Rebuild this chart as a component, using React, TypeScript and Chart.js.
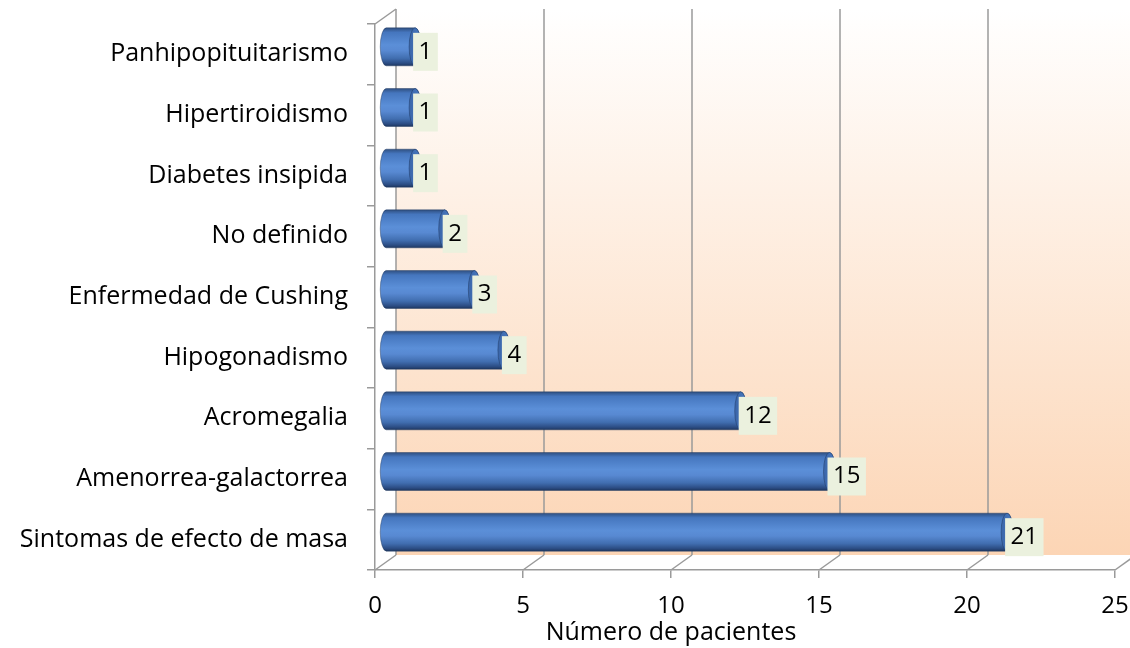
import React, { useEffect, useRef } from "react";
import { Chart, registerables } from "chart.js";

Chart.register(...registerables);

const categories = [
  "Panhipopituitarismo",
  "Hipertiroidismo",
  "Diabetes insipida",
  "No definido",
  "Enfermedad de Cushing",
  "Hipogonadismo",
  "Acromegalia",
  "Amenorrea-galactorrea",
  "Sintomas de efecto de masa",
];
const patients = [1, 1, 1, 2, 3, 4, 12, 15, 21];
const xTicks = [0, 5, 10, 15, 20, 25];
const xTitle = "Número de pacientes";

const FONT = '"Open Sans", sans-serif';
const DX = 21;
const DY = -15;
const GRID = "#9A9A9A";

function drawCylinder(ctx: CanvasRenderingContext2D, x0: number, x1: number, yc: number, h: number) {
  const rx = 6;
  const ry = h / 2;
  const top = yc - ry;
  const bot = yc + ry;
  const g = ctx.createLinearGradient(0, top, 0, bot);
  g.addColorStop(0, "#2F4F80");
  g.addColorStop(0.12, "#4576BE");
  g.addColorStop(0.45, "#5B8FD8");
  g.addColorStop(0.6, "#5889D2");
  g.addColorStop(0.8, "#416EB0");
  g.addColorStop(0.93, "#2C4D84");
  g.addColorStop(1, "#1E3760");
  ctx.beginPath();
  ctx.moveTo(x0, top);
  ctx.lineTo(x1, top);
  ctx.ellipse(x1, yc, rx, ry, 0, -Math.PI / 2, Math.PI / 2, false);
  ctx.lineTo(x0, bot);
  ctx.ellipse(x0, yc, rx, ry, 0, Math.PI / 2, (3 * Math.PI) / 2, false);
  ctx.closePath();
  ctx.fillStyle = g;
  ctx.fill();
  ctx.strokeStyle = "rgba(30,55,95,0.55)";
  ctx.lineWidth = 0.8;
  ctx.stroke();
  const cg = ctx.createLinearGradient(x1 - rx, 0, x1 + rx, 0);
  cg.addColorStop(0, "#3A65A8");
  cg.addColorStop(1, "#4A7BC2");
  ctx.beginPath();
  ctx.ellipse(x1, yc, rx, ry, 0, 0, Math.PI * 2);
  ctx.fillStyle = cg;
  ctx.fill();
  ctx.strokeStyle = "rgba(30,55,95,0.6)";
  ctx.stroke();
}

const fake3d = {
  id: "fake3d",
  beforeDraw(chart: any) {
    const ctx = chart.ctx as CanvasRenderingContext2D;
    const xs = chart.scales.x;
    const ys = chart.scales.y;
    const L = xs.getPixelForValue(0);
    const R = xs.getPixelForValue(25);
    const T = ys.top;
    const B = ys.bottom;
    ctx.save();
    const g = ctx.createLinearGradient(0, T + DY, 0, B + DY);
    g.addColorStop(0, "#FFFFFF");
    g.addColorStop(1, "#FCD5B5");
    ctx.fillStyle = g;
    ctx.fillRect(L + DX, T + DY, R - L, B - T);
    ctx.strokeStyle = GRID;
    ctx.lineWidth = 1.5;
    for (const v of xTicks) {
      const px = xs.getPixelForValue(v);
      ctx.beginPath();
      ctx.moveTo(px + DX, T + DY);
      ctx.lineTo(px + DX, B + DY);
      ctx.stroke();
      ctx.beginPath();
      ctx.moveTo(px, B);
      ctx.lineTo(px + DX, B + DY);
      ctx.stroke();
    }
    ctx.beginPath();
    ctx.moveTo(L, T);
    ctx.lineTo(L + DX, T + DY);
    ctx.stroke();
    ctx.restore();
  },
  afterDatasetsDraw(chart: any) {
    const ctx = chart.ctx as CanvasRenderingContext2D;
    const meta = chart.getDatasetMeta(0);
    ctx.save();
    meta.data.forEach((el: any) => {
      const p = el.getProps(["x", "y", "base", "height"], true);
      drawCylinder(ctx, p.base + DX / 2, p.x + DX / 2, p.y + DY / 2, p.height);
    });
    ctx.font = `24px ${FONT}`;
    ctx.textBaseline = "middle";
    ctx.textAlign = "left";
    meta.data.forEach((el: any, i: number) => {
      const p = el.getProps(["x", "y", "base", "height"], true);
      const x1 = p.x + DX / 2;
      const yc = p.y + DY / 2 + 5;
      const txt = String(patients[i]);
      const pad = 5.5;
      const tw = ctx.measureText(txt).width;
      const bx = x1 - 2;
      const bh = p.height;
      ctx.fillStyle = "#EBF1DE";
      ctx.fillRect(bx, yc - bh / 2, tw + pad * 2, bh);
      ctx.fillStyle = "#000000";
      ctx.fillText(txt, bx + pad, yc);
    });
    ctx.restore();
  },
  afterDraw(chart: any) {
    const ctx = chart.ctx as CanvasRenderingContext2D;
    ctx.save();
    ctx.font = `25px ${FONT}`;
    ctx.fillStyle = "#000000";
    ctx.textAlign = "center";
    ctx.textBaseline = "middle";
    ctx.fillText(xTitle, 671, 633);
    ctx.restore();
  },
};

export default function App() {
  const ref = useRef<HTMLCanvasElement>(null);
  useEffect(() => {
    const chart = new Chart(ref.current as HTMLCanvasElement, {
      type: "bar",
      data: {
        labels: categories,
        datasets: [
          {
            data: patients,
            backgroundColor: "rgba(0,0,0,0)",
            borderWidth: 0,
            barPercentage: 0.626,
            categoryPercentage: 1,
          },
        ],
      },
      options: {
        indexAxis: "y",
        responsive: false,
        animation: false,
        devicePixelRatio: 1,
        layout: { padding: { top: 24, right: 15, left: 0, bottom: 0 } },
        plugins: {
          legend: { display: false },
          tooltip: { enabled: false },
          title: { display: false },
        },
        scales: {
          x: {
            type: "linear",
            min: 0,
            max: 25,
            afterBuildTicks: (s: any) => {
              s.ticks = xTicks.map((v) => ({ value: v }));
            },
            ticks: {
              font: { family: FONT, size: 24 },
              color: "#000000",
              padding: 14,
              maxRotation: 0,
              autoSkip: false,
            },
            grid: {
              drawOnChartArea: false,
              drawTicks: true,
              tickLength: 8,
              color: GRID,
              lineWidth: 1.5,
            },
            border: { display: true, color: GRID, width: 1.5 },
            afterFit: (s: any) => {
              s.height = 78;
              s.paddingLeft = 0;
              s.paddingRight = 0;
              s.paddingTop = 0;
              s.paddingBottom = 0;
            },
          },
          y: {
            type: "category",
            ticks: {
              font: { family: FONT, size: 25 },
              color: "#000000",
              padding: 19,
              autoSkip: false,
            },
            grid: {
              drawOnChartArea: false,
              drawTicks: true,
              tickLength: 8,
              color: GRID,
              lineWidth: 1.5,
              offset: true,
            },
            border: { display: true, color: GRID, width: 1.5 },
            afterFit: (s: any) => {
              s.width = 375;
              s.paddingLeft = 0;
              s.paddingRight = 0;
              s.paddingTop = 0;
              s.paddingBottom = 0;
            },
          },
        },
      } as any,
      plugins: [fake3d],
    });
    return () => chart.destroy();
  }, []);
  return (
    <div style={{ position: "absolute", left: 0, top: 0, width: 1130, height: 648 }}>
      <canvas ref={ref} width={1130} height={648} style={{ display: "block" }} />
    </div>
  );
}
